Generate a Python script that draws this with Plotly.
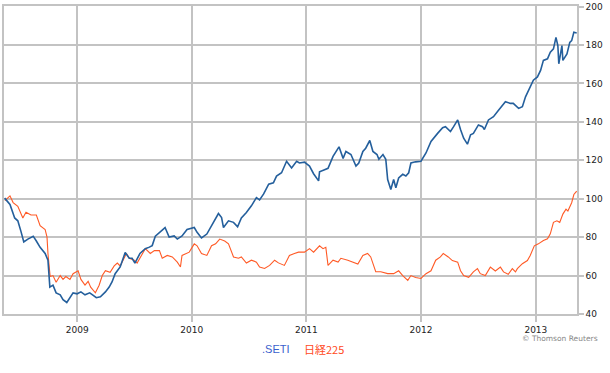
import plotly.graph_objects as go

# .SETI (blue), rebased to 100
seti_dates = [
    "2008-05-15", "2008-06-01", "2008-06-16", "2008-06-26", "2008-07-06", "2008-07-15", "2008-07-28",
    "2008-08-14", "2008-08-24", "2008-09-05", "2008-09-21", "2008-09-30", "2008-10-03", "2008-10-06",
    "2008-10-16", "2008-10-26", "2008-11-08", "2008-11-17", "2008-11-29", "2008-12-09", "2008-12-19",
    "2009-01-01", "2009-01-13", "2009-01-26", "2009-02-10", "2009-02-19", "2009-03-03", "2009-03-16",
    "2009-04-01", "2009-04-13", "2009-04-22", "2009-05-02", "2009-05-18", "2009-06-03", "2009-06-16",
    "2009-06-25", "2009-07-04", "2009-07-20", "2009-08-06", "2009-08-19", "2009-08-28", "2009-09-07",
    "2009-09-23", "2009-10-08", "2009-10-21", "2009-11-06", "2009-11-16", "2009-12-01", "2009-12-17",
    "2010-01-09", "2010-01-18", "2010-02-01", "2010-02-18", "2010-03-05", "2010-03-18", "2010-03-27",
    "2010-04-06", "2010-04-12", "2010-04-28", "2010-05-14", "2010-05-27", "2010-06-08", "2010-06-24",
    "2010-07-10", "2010-07-26", "2010-08-05", "2010-08-18", "2010-09-03", "2010-09-18", "2010-09-28",
    "2010-10-14", "2010-10-30", "2010-11-15", "2010-12-01", "2010-12-10", "2010-12-26", "2011-01-11",
    "2011-01-24", "2011-02-09", "2011-02-12", "2011-02-26", "2011-03-11", "2011-03-27", "2011-04-15",
    "2011-04-28", "2011-05-07", "2011-05-23", "2011-06-08", "2011-06-17", "2011-06-30", "2011-07-09",
    "2011-07-22", "2011-08-01", "2011-08-14", "2011-08-20", "2011-09-02", "2011-09-11", "2011-09-17",
    "2011-09-27", "2011-10-06", "2011-10-13", "2011-10-22", "2011-11-04", "2011-11-14", "2011-11-23",
    "2011-11-30", "2011-12-15", "2012-01-01", "2012-01-17", "2012-02-02", "2012-02-23", "2012-03-10",
    "2012-03-19", "2012-04-04", "2012-04-14", "2012-04-27", "2012-05-06", "2012-05-16", "2012-05-28",
    "2012-06-07", "2012-06-16", "2012-07-02", "2012-07-15", "2012-07-21", "2012-08-03", "2012-08-19",
    "2012-09-04", "2012-09-26", "2012-10-12", "2012-10-21", "2012-11-07", "2012-11-19", "2012-11-29",
    "2012-12-14", "2012-12-24", "2013-01-06", "2013-01-16", "2013-01-25", "2013-02-07", "2013-02-16",
    "2013-02-26", "2013-03-06", "2013-03-12", "2013-03-15", "2013-03-25", "2013-03-28", "2013-04-10",
    "2013-04-19", "2013-04-25", "2013-05-02", "2013-05-11",
]
seti_values = [
    100.3, 97, 90, 88.5, 83, 77.5, 79,
    80.5, 78, 74.7, 71.5, 68, 61, 54,
    55, 51, 50, 47.5, 46, 48.5, 51,
    50.5, 51.5, 50, 51, 50, 48.5, 49,
    51.5, 54, 56.7, 61, 64.5, 72, 69,
    69, 66.5, 71.5, 74, 74.8, 75.6, 80.5,
    83, 85, 80, 80.6, 79, 80.6, 84,
    85, 82.5, 79.6, 81.6, 86, 89.5, 92.3,
    90.2, 85, 88.5, 87.7, 85.4, 90, 92.8,
    96.3, 100.6, 99.4, 102.5, 107.6, 108.3, 111.8,
    113.5, 119.5, 116, 119.5, 118.6, 119, 117,
    113, 109.3, 114, 115, 115.8, 122, 127,
    121, 124.6, 123, 117, 118.6, 124.6, 126.3,
    130.3, 124.6, 123, 120.5, 123, 120.5, 110,
    104.8, 110, 105.7, 110.8, 112.7, 111.8, 113.5,
    118.6, 119.2, 119.5, 123.8, 129.8, 134, 137,
    137.5, 135, 137.5, 141, 136, 131.5, 128.4,
    133.3, 134, 138.4, 137.5, 136, 141, 142.7,
    146, 150.5, 149.6, 149.6, 147, 147.9, 153,
    158.2, 161.7, 163.4, 166.8, 172, 172.8, 176.3,
    178, 184, 179.7, 170.2, 179.7, 172, 175.4,
    181.4, 182.3, 186.6, 186.2,
]

# 日経225 (orange), rebased to 100
nikkei_dates = [
    "2008-05-16", "2008-06-01", "2008-06-11", "2008-06-26", "2008-07-12", "2008-07-22", "2008-08-07",
    "2008-08-24", "2008-09-05", "2008-09-21", "2008-09-27", "2008-09-30", "2008-10-07", "2008-10-16",
    "2008-10-26", "2008-11-08", "2008-11-17", "2008-11-26", "2008-12-09", "2008-12-19", "2009-01-04",
    "2009-01-13", "2009-01-26", "2009-02-05", "2009-02-13", "2009-02-28", "2009-03-12", "2009-03-22",
    "2009-04-01", "2009-04-16", "2009-04-29", "2009-05-09", "2009-05-18", "2009-06-07", "2009-06-16",
    "2009-07-02", "2009-07-11", "2009-07-27", "2009-08-06", "2009-08-22", "2009-09-04", "2009-09-20",
    "2009-09-29", "2009-10-15", "2009-10-31", "2009-11-16", "2009-11-26", "2009-12-01", "2009-12-24",
    "2010-01-09", "2010-01-18", "2010-02-01", "2010-02-18", "2010-03-05", "2010-03-18", "2010-03-31",
    "2010-04-16", "2010-04-28", "2010-05-14", "2010-05-30", "2010-06-08", "2010-06-24", "2010-07-10",
    "2010-07-26", "2010-08-05", "2010-08-21", "2010-09-06", "2010-09-22", "2010-10-04", "2010-10-23",
    "2010-11-08", "2010-11-24", "2010-12-07", "2010-12-26", "2011-01-11", "2011-01-24", "2011-02-12",
    "2011-02-23", "2011-03-04", "2011-03-11", "2011-03-27", "2011-04-12", "2011-04-21", "2011-05-13",
    "2011-06-01", "2011-06-14", "2011-06-30", "2011-07-15", "2011-07-25", "2011-08-10", "2011-08-26",
    "2011-09-17", "2011-10-06", "2011-10-22", "2011-11-04", "2011-11-20", "2011-11-30", "2011-12-15",
    "2012-01-01", "2012-01-17", "2012-02-02", "2012-02-17", "2012-03-03", "2012-03-12", "2012-03-28",
    "2012-04-10", "2012-04-27", "2012-05-06", "2012-05-16", "2012-06-01", "2012-06-16", "2012-06-29",
    "2012-07-08", "2012-07-24", "2012-08-09", "2012-08-25", "2012-09-10", "2012-09-20", "2012-10-05",
    "2012-10-18", "2012-10-28", "2012-11-03", "2012-11-19", "2012-12-05", "2012-12-14", "2012-12-27",
    "2013-01-09", "2013-01-25", "2013-02-07", "2013-02-16", "2013-02-26", "2013-03-09", "2013-03-18",
    "2013-03-28", "2013-04-07", "2013-04-13", "2013-04-25", "2013-05-02", "2013-05-11",
]
nikkei_values = [
    99, 101.5, 98, 96, 90, 93, 91.5,
    91.5, 86, 84, 80, 71.5, 59.5, 60,
    56.5, 60, 58, 59.5, 58, 61, 62.5,
    58, 55, 57, 54, 51, 55, 60,
    62.5, 61.7, 65, 66.5, 65, 71.5, 69,
    68, 66.5, 71.5, 74, 71.5, 73, 73,
    69, 70.5, 69.7, 67, 64.5, 70.5, 72.2,
    76.5, 75.5, 71.5, 70.5, 75.5, 76.5, 79,
    78, 76.5, 69.7, 69, 69.7, 66.5, 68,
    67, 64.5, 63.7, 65.3, 68, 66.6, 65.3,
    70.5, 71.5, 72.2, 72.2, 74, 72.2, 75.5,
    74, 74.7, 65.3, 68, 67, 69, 68,
    67, 66, 70.5, 71.5, 69.7, 62, 62,
    61, 61, 62.5, 60, 57.5, 60, 59,
    58.5, 61, 62.5, 68, 69.7, 71.5, 69.7,
    67.8, 67, 62.5, 60, 59.1, 61.9, 63.6,
    61, 60, 64.4, 62.4, 64.4, 61.9, 60.7,
    63.6, 61.9, 63.6, 66.2, 67.8, 70.5, 75.5,
    76.5, 78.2, 79.1, 81.7, 87.7, 88.5, 87.7,
    92, 94.6, 93.6, 97.9, 102.2, 103.9,
]

y_ticks = [40, 60, 80, 100, 120, 140, 160, 180, 200]
x_ticks = ["2009-01-01", "2010-01-01", "2011-01-01", "2012-01-01", "2013-01-01"]
x_tick_labels = ["2009", "2010", "2011", "2012", "2013"]
legend_names = [".SETI", "日経225"]

BLUE = "#245f9c"
ORANGE = "#ff5a26"
GRID = "#c3c3c3"

fig = go.Figure()
fig.add_trace(go.Scatter(x=nikkei_dates, y=nikkei_values, mode="lines",
                         line=dict(color=ORANGE, width=1.1), name=legend_names[1]))
fig.add_trace(go.Scatter(x=seti_dates, y=seti_values, mode="lines",
                         line=dict(color=BLUE, width=1.6), name=legend_names[0]))

fig.update_layout(
    width=610, height=373,
    margin=dict(l=2, r=33, t=5, b=59),
    paper_bgcolor="white", plot_bgcolor="white",
    showlegend=False,
    font=dict(family="DejaVu Sans", size=9, color="#222222"),
    xaxis=dict(
        type="date",
        range=["2008-05-13", "2013-05-12"],
        tickvals=x_ticks, ticktext=x_tick_labels,
        showgrid=True, gridcolor=GRID, gridwidth=1.5,
        ticks="outside", ticklen=6, tickcolor=GRID, tickwidth=1.5,
        showline=True, linecolor=GRID, linewidth=1.5, mirror=True,
        zeroline=False,
        tickfont=dict(family="DejaVu Sans", size=9, color="#222222"),
    ),
    yaxis=dict(
        side="right",
        range=[40, 200.3],
        tickvals=y_ticks,
        showgrid=True, gridcolor=GRID, gridwidth=1.5,
        ticks="outside", ticklen=5, tickcolor=GRID, tickwidth=1.5,
        showline=True, linecolor=GRID, linewidth=1.5, mirror=True,
        zeroline=False,
        tickfont=dict(family="DejaVu Sans", size=9, color="#222222"),
    ),
    annotations=[
        dict(text=legend_names[0], xref="paper", yref="paper", x=0.5, y=-0.113,
             xanchor="right", yanchor="middle", showarrow=False, xshift=1,
             font=dict(family="Liberation Sans", size=11, color="#3a5fcd")),
        dict(text=legend_names[1], xref="paper", yref="paper", x=0.5, y=-0.113,
             xanchor="left", yanchor="middle", showarrow=False, xshift=11,
             font=dict(family="Noto Sans CJK JP", size=11, color="#ff4a22")),
        dict(text="© Thomson Reuters", xref="paper", yref="paper", x=1.0, y=-0.078,
             xanchor="right", yanchor="middle", showarrow=False, xshift=23,
             font=dict(family="DejaVu Sans", size=7.5, color="#888888")),
    ],
)

fig.write_html("out.html", config={"displayModeBar": False},
               post_script="document.body.style.margin='0px';")
